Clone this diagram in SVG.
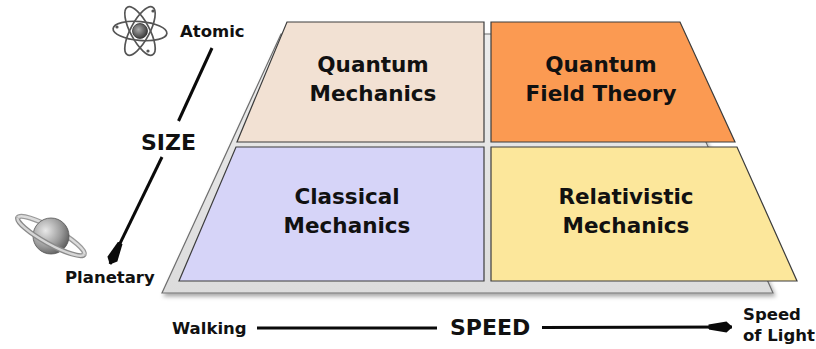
<svg xmlns="http://www.w3.org/2000/svg" width="816" height="349" viewBox="0 0 816 349">
<defs>
<style>
.lbl{font-family:"DejaVu Sans","Liberation Sans",sans-serif;font-weight:bold;fill:#111}
.pt{font-size:21.5px;text-anchor:middle}
.ax{font-size:16.5px}
.big{font-size:22px}
.panel{stroke:#3c3c3c;stroke-width:1.2}
.axis{stroke:#0a0a0a;stroke-width:3;fill:none}
.orbit{fill:none;stroke:#555;stroke-width:1.7}
</style>
<marker id="ah" viewBox="0 0 24 12" markerWidth="24" markerHeight="12" refX="23.5" refY="6" markerUnits="userSpaceOnUse" orient="auto">
<path d="M0,3.5 L18,0.5 L24,6 L18,11.5 L0,8.5 z" fill="#0a0a0a"/>
</marker>
<linearGradient id="plateG" x1="0" y1="0" x2="0" y2="1">
<stop offset="0" stop-color="#ececec"/>
<stop offset="1" stop-color="#dcdcdc"/>
</linearGradient>
<radialGradient id="nuc" cx="0.4" cy="0.4" r="0.7">
<stop offset="0" stop-color="#aaa"/>
<stop offset="1" stop-color="#2a2a2a"/>
</radialGradient>
<radialGradient id="sph" cx="0.35" cy="0.35" r="0.75">
<stop offset="0" stop-color="#e8e8e8"/>
<stop offset="0.6" stop-color="#999"/>
<stop offset="1" stop-color="#555"/>
</radialGradient>
<filter id="sh" x="-10%" y="-10%" width="120%" height="130%">
<feDropShadow dx="2" dy="3" stdDeviation="2" flood-color="#000" flood-opacity="0.35"/>
</filter>
</defs>
<rect width="816" height="349" fill="#fff"/>

<g id="plate">
<polygon points="281,34 658,34 773,293 162,293" fill="url(#plateG)" stroke="#6e6e6e" stroke-width="1.2" filter="url(#sh)"/>
</g>

<g id="quantum-mechanics">
<polygon class="panel" points="287,22 484,22 484,142 237,142" fill="#f2e1d3"/>
<text class="lbl pt" x="373" y="72">Quantum</text>
<text class="lbl pt" x="373" y="101">Mechanics</text>
</g>
<g id="quantum-field-theory">
<polygon class="panel" points="491,22 680,22 735,142 491,142" fill="#fb9a52"/>
<text class="lbl pt" x="601" y="72">Quantum</text>
<text class="lbl pt" x="601" y="101">Field Theory</text>
</g>
<g id="classical-mechanics">
<polygon class="panel" points="236,147 484,147 484,281 179,281" fill="#d6d4f8"/>
<text class="lbl pt" x="347" y="204">Classical</text>
<text class="lbl pt" x="347" y="233">Mechanics</text>
</g>
<g id="relativistic-mechanics">
<polygon class="panel" points="491,147 737,147 797,281 491,281" fill="#fce79b"/>
<text class="lbl pt" x="626" y="204">Relativistic</text>
<text class="lbl pt" x="626" y="233">Mechanics</text>
</g>

<g id="atom-icon">
<g transform="translate(140,31)">
<ellipse class="orbit" rx="27" ry="9.5" transform="rotate(5)"/>
<ellipse class="orbit" rx="27" ry="9.5" transform="rotate(62)"/>
<ellipse class="orbit" rx="27" ry="9.5" transform="rotate(118)"/>
<circle r="7.5" fill="url(#nuc)" stroke="#333" stroke-width="0.8"/>
<circle cx="-23" cy="-4" r="1.6" fill="#555"/>
<circle cx="8" cy="20" r="1.6" fill="#555"/>
<circle cx="13" cy="-20" r="1.6" fill="#555"/>
</g>
</g>

<g id="planet-icon">
<g transform="translate(51,236) rotate(29)">
<path d="M-38,0 A38,8 0 0 1 38,0" fill="none" stroke="#9a9a9a" stroke-width="5"/>
<path d="M-38,0 A38,8 0 0 1 38,0" fill="none" stroke="#dcdcdc" stroke-width="2.5"/>
</g>
<circle cx="51" cy="236" r="18" fill="url(#sph)" stroke="#555" stroke-width="0.8"/>
<g transform="translate(51,236) rotate(29)">
<path d="M-38,0 A38,8 0 0 0 38,0" fill="none" stroke="#8a8a8a" stroke-width="5"/>
<path d="M-38,0 A38,8 0 0 0 38,0" fill="none" stroke="#d6d6d6" stroke-width="2.5"/>
</g>
</g>

<g id="labels">
<text class="lbl ax" x="180" y="37">Atomic</text>
<text class="lbl big" x="141" y="150">SIZE</text>
<text class="lbl ax" x="65" y="283">Planetary</text>
<text class="lbl ax" x="172" y="334">Walking</text>
<text class="lbl big" x="450" y="335">SPEED</text>
<text class="lbl ax" x="743" y="320">Speed</text>
<text class="lbl ax" x="743" y="341">of Light</text>
</g>

<g id="connectors">
<line class="axis" x1="212" y1="48" x2="178.5" y2="121"/>
<line class="axis" x1="162" y1="157" x2="110" y2="264" marker-end="url(#ah)"/>
<line class="axis" x1="257" y1="328" x2="437" y2="328"/>
<line class="axis" x1="542" y1="327.5" x2="732" y2="327" marker-end="url(#ah)"/>
</g>
</svg>
